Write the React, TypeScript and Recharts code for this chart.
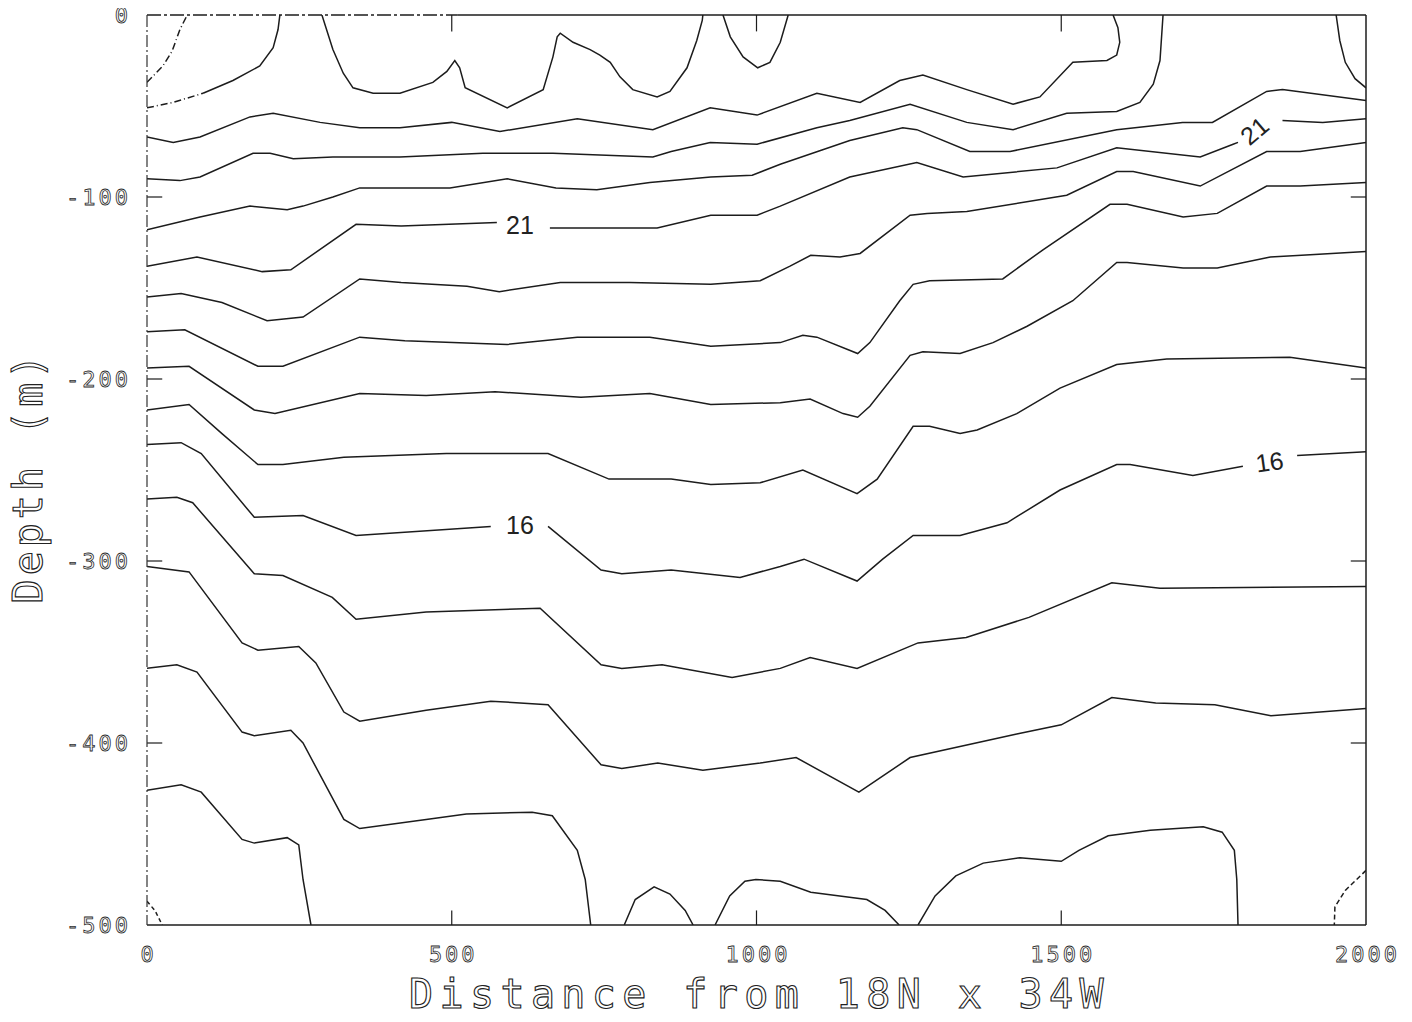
import React from "react";
import { LineChart, Line, XAxis, YAxis, ReferenceLine, ReferenceDot } from "recharts";

// distance (km) / depth (m) pairs
const X_TICKS = [0, 500, 1000, 1500, 2000];
const Y_TICKS = [-500, -400, -300, -200, -100, 0];

const ISO_A = [[0, -37], [26, -28], [41, -20], [54, -8], [66, 0]];
const ISO_B_DASH = [[0, -51], [43, -48], [92, -43]];
const ISO_B = [[92, -43], [141, -36], [185, -28], [207, -18], [215, -8], [218, 0]];
const ISO_C = [[287, 0], [305, -19], [322, -32], [338, -40], [371, -43], [415, -43], [469, -37], [492, -31], [505, -25], [513, -29], [522, -40], [591, -51], [650, -41], [666, -23], [673, -12], [678, -10], [699, -15], [727, -19], [743, -22], [760, -26], [776, -34], [797, -41], [837, -45], [858, -42], [886, -29], [902, -14], [911, -3], [912, 0]];
const ISO_D = [[945, 0], [957, -12], [978, -23], [1002, -29], [1022, -26], [1039, -15], [1052, 0]];
const ISO_E = [[0, -67], [43, -70], [87, -67], [169, -56], [207, -54], [284, -59], [349, -62], [415, -62], [500, -59], [579, -64], [706, -57], [830, -63], [924, -51], [1001, -55], [1099, -43], [1170, -48], [1235, -36], [1273, -33], [1345, -41], [1421, -49], [1465, -45], [1519, -26], [1575, -25], [1591, -22], [1596, -15], [1593, -7], [1585, 0]];
const ISO_F = [[0, -90], [54, -91], [87, -89], [174, -76], [202, -76], [240, -79], [305, -78], [415, -78], [551, -76], [666, -76], [830, -78], [860, -75], [924, -70], [1001, -71], [1099, -62], [1153, -58], [1252, -49], [1345, -59], [1421, -63], [1509, -54], [1591, -53], [1629, -48], [1651, -38], [1662, -25], [1667, 0]];
const ISO_G = [[0, -118], [87, -111], [169, -105], [230, -107], [256, -105], [305, -100], [349, -95], [415, -95], [497, -95], [591, -90], [671, -95], [738, -96], [825, -92], [925, -89], [993, -88], [1039, -82], [1153, -69], [1240, -62], [1263, -63], [1350, -75], [1416, -75], [1591, -63], [1699, -59], [1748, -59], [1837, -42], [1863, -41], [2000, -47]];
const ISO_21_A = [[0, -138], [82, -133], [189, -141], [236, -140], [343, -115], [417, -116], [574, -114]];
const ISO_21_B = [[661, -117], [837, -117], [925, -110], [1001, -110], [1039, -105], [1153, -89], [1263, -81], [1339, -89], [1493, -84], [1591, -73], [1728, -78], [1782, -71], [1790, -70]];
const ISO_21_C = [[1863, -58], [1929, -59], [2000, -57]];
const ISO_20 = [[0, -155], [56, -153], [123, -158], [197, -168], [256, -166], [349, -145], [417, -147], [525, -149], [578, -152], [678, -147], [792, -147], [925, -148], [1006, -146], [1055, -138], [1089, -132], [1137, -133], [1170, -131], [1252, -110], [1280, -109], [1345, -108], [1509, -99], [1591, -86], [1618, -86], [1728, -94], [1837, -75], [1892, -75], [2000, -70]];
const ISO_19 = [[0, -174], [62, -173], [182, -193], [223, -193], [349, -177], [423, -179], [591, -181], [706, -177], [825, -177], [925, -182], [1039, -180], [1076, -176], [1099, -177], [1166, -186], [1186, -180], [1235, -157], [1257, -148], [1284, -146], [1404, -145], [1470, -129], [1580, -104], [1608, -104], [1700, -111], [1756, -109], [1837, -94], [1892, -94], [2000, -92]];
const ISO_18 = [[0, -194], [69, -193], [176, -217], [210, -219], [349, -208], [458, -209], [571, -207], [712, -210], [825, -208], [925, -214], [1039, -213], [1088, -211], [1142, -219], [1166, -221], [1186, -215], [1252, -187], [1273, -185], [1334, -186], [1388, -180], [1444, -171], [1519, -157], [1591, -136], [1608, -136], [1700, -139], [1756, -139], [1843, -133], [2000, -130]];
const ISO_17 = [[0, -217], [69, -214], [123, -230], [182, -247], [223, -247], [323, -243], [491, -241], [658, -241], [758, -255], [860, -255], [925, -258], [1006, -257], [1076, -250], [1165, -263], [1198, -255], [1257, -226], [1284, -226], [1334, -230], [1362, -228], [1427, -219], [1498, -205], [1591, -192], [1673, -189], [1875, -188], [2000, -194]];
const ISO_16_A = [[0, -236], [56, -235], [89, -241], [176, -276], [256, -275], [343, -286], [564, -281]];
const ISO_16_B = [[658, -281], [745, -305], [779, -307], [860, -305], [973, -309], [1039, -303], [1078, -299], [1165, -311], [1207, -299], [1257, -286], [1334, -286], [1411, -279], [1498, -261], [1591, -247], [1613, -247], [1716, -253], [1798, -248]];
const ISO_16_C = [[1887, -242], [2000, -240]];
const ISO_15 = [[0, -266], [49, -265], [75, -268], [176, -307], [223, -308], [304, -320], [343, -332], [458, -328], [645, -326], [745, -357], [779, -359], [845, -357], [960, -364], [1039, -359], [1088, -353], [1165, -359], [1265, -345], [1344, -342], [1447, -331], [1583, -312], [1662, -315], [2000, -314]];
const ISO_14 = [[0, -303], [69, -306], [156, -345], [182, -349], [249, -347], [277, -356], [323, -383], [349, -388], [458, -382], [564, -377], [658, -379], [745, -412], [779, -414], [838, -411], [912, -415], [1006, -411], [1065, -408], [1168, -427], [1252, -408], [1427, -395], [1500, -390], [1583, -375], [1655, -378], [1752, -379], [1844, -385], [2000, -381]];
const ISO_13 = [[0, -359], [49, -357], [82, -361], [156, -394], [176, -396], [236, -393], [256, -400], [323, -442], [349, -447], [458, -442], [524, -439], [632, -438], [665, -440], [706, -459], [719, -475], [728, -500]];
const ISO_12 = [[0, -426], [56, -423], [89, -427], [156, -453], [176, -455], [230, -452], [249, -456], [256, -475], [269, -500]];
const ARC_LEFT = [[0, -487], [13, -492], [25, -500]];
const ARC_MID = [[783, -500], [801, -486], [832, -479], [858, -483], [883, -492], [896, -500]];
const BOTTOM_G = [[932, -500], [956, -484], [981, -476], [999, -475], [1039, -476], [1089, -482], [1181, -486], [1211, -492], [1234, -500]];
const BOTTOM_F = [[1265, -500], [1293, -484], [1327, -473], [1372, -466], [1432, -463], [1500, -465], [1529, -459], [1577, -451], [1646, -448], [1733, -446], [1764, -449], [1784, -459], [1788, -475], [1790, -500]];
const ARC_RIGHT = [[2000, -470], [1966, -481], [1949, -490], [1948, -500]];
const CORNER = [[1951, 0], [1957, -14], [1966, -26], [1982, -35], [2000, -40]];

const CONTOUR_LABELS = [
  { x: 612, y: -116, text: "21", angle: 0 },
  { x: 1818, y: -64, text: "21", angle: -40 },
  { x: 612, y: -281, text: "16", angle: 0 },
  { x: 1842, y: -246, text: "16", angle: -8 },
];

const DASH_DOT = "7 3 1 3";
const CONTOURS: { id: string; pts: number[][]; dash?: string }[] = [
  { id: "a", pts: ISO_A, dash: DASH_DOT },
  { id: "b0", pts: ISO_B_DASH, dash: DASH_DOT },
  { id: "b", pts: ISO_B },
  { id: "c", pts: ISO_C },
  { id: "d", pts: ISO_D },
  { id: "e", pts: ISO_E },
  { id: "f", pts: ISO_F },
  { id: "g", pts: ISO_G },
  { id: "21a", pts: ISO_21_A },
  { id: "21b", pts: ISO_21_B },
  { id: "21c", pts: ISO_21_C },
  { id: "20", pts: ISO_20 },
  { id: "19", pts: ISO_19 },
  { id: "18", pts: ISO_18 },
  { id: "17", pts: ISO_17 },
  { id: "16a", pts: ISO_16_A },
  { id: "16b", pts: ISO_16_B },
  { id: "16c", pts: ISO_16_C },
  { id: "15", pts: ISO_15 },
  { id: "14", pts: ISO_14 },
  { id: "13", pts: ISO_13 },
  { id: "12", pts: ISO_12 },
  { id: "arcL", pts: ARC_LEFT, dash: "4 3" },
  { id: "arcM", pts: ARC_MID },
  { id: "botG", pts: BOTTOM_G },
  { id: "botF", pts: BOTTOM_F },
  { id: "arcR", pts: ARC_RIGHT, dash: "5 3" },
  { id: "corner", pts: CORNER },
];

const INK = "#1c1c1c";
// chart covers the whole page (body margin cancelled below)
const W = 1412;
const H = 1022;
const PLOT_LEFT = 147;
const PLOT_TOP = 15;
const PLOT_W = 1219;
const PLOT_H = 910;

const tickFont: React.CSSProperties = {
  fontFamily: "'DejaVu Sans Mono', monospace",
  fontSize: 22,
  letterSpacing: 3,
  fill: "none",
  stroke: "#2a2a2a",
  strokeWidth: 0.8,
};

const titleFont: React.CSSProperties = {
  fontFamily: "'DejaVu Sans Mono', monospace",
  fontSize: 40,
  fill: "none",
  stroke: "#222",
  strokeWidth: 1.1,
};

const XTick = ({ x, y, payload }: any) => (
  <text x={x + 1.5} y={y + 37} textAnchor="middle" style={tickFont}>
    {payload.value}
  </text>
);

const YTick = ({ x, y, payload }: any) => (
  <text x={x - 16} y={y + 8} textAnchor="end" style={tickFont}>
    {payload.value}
  </text>
);

const XTitle = () => (
  <text
    x={PLOT_LEFT + PLOT_W / 2 + 3}
    y={PLOT_TOP + PLOT_H + 83}
    textAnchor="middle"
    style={{ ...titleFont, letterSpacing: 6.4 }}
  >
    Distance from 18N x 34W
  </text>
);

const YTitle = () => {
  const cx = 42;
  const cy = 477;
  return (
    <text
      x={cx}
      y={cy}
      textAnchor="middle"
      transform={`rotate(-90, ${cx}, ${cy})`}
      style={{ ...titleFont, letterSpacing: 4 }}
    >
      Depth (m)
    </text>
  );
};

const toPts = (arr: number[][]) => arr.map(([x, y]) => ({ x, y }));

export default function App() {
  return (
    <div style={{ width: W, height: H, margin: "-8px 0 0 -8px", background: "#fff" }}>
      <LineChart width={W} height={H} margin={{ top: PLOT_TOP, right: W - PLOT_LEFT - PLOT_W, left: 0, bottom: 0 }}>
        <XAxis
          type="number"
          dataKey="x"
          domain={[0, 2000]}
          ticks={X_TICKS}
          allowDataOverflow
          height={H - PLOT_TOP - PLOT_H}
          tickSize={0}
          tickMargin={0}
          tickLine={false}
          axisLine={{ stroke: INK, strokeWidth: 1.5 }}
          tick={<XTick />}
          label={XTitle}
        />
        <YAxis
          type="number"
          domain={[-500, 0]}
          ticks={Y_TICKS}
          allowDataOverflow
          width={PLOT_LEFT}
          tickSize={0}
          tickMargin={0}
          tickLine={false}
          axisLine={{ stroke: "#333", strokeWidth: 1.2, strokeDasharray: "12 3 2 3" }}
          tick={<YTick />}
          label={YTitle}
        />
        <ReferenceLine segment={[{ x: 0, y: 0 }, { x: 510, y: 0 }]} stroke={INK} strokeWidth={1.4} strokeDasharray="14 3 3 3" />
        <ReferenceLine segment={[{ x: 510, y: 0 }, { x: 2000, y: 0 }]} stroke={INK} strokeWidth={1.5} />
        <ReferenceLine x={2000} stroke={INK} strokeWidth={1.5} />
        {X_TICKS.slice(1, -1).map((t) => (
          <ReferenceLine key={`bt${t}`} segment={[{ x: t, y: -500 }, { x: t, y: -492 }]} stroke={INK} strokeWidth={1.2} />
        ))}
        {X_TICKS.slice(1, -1).map((t) => (
          <ReferenceLine key={`tt${t}`} segment={[{ x: t, y: 0 }, { x: t, y: -9 }]} stroke={INK} strokeWidth={1.2} />
        ))}
        {Y_TICKS.slice(1, -1).map((t) => (
          <ReferenceLine key={`lt${t}`} segment={[{ x: 0, y: t }, { x: 25, y: t }]} stroke={INK} strokeWidth={1.2} />
        ))}
        {Y_TICKS.slice(1, -1).map((t) => (
          <ReferenceLine key={`rt${t}`} segment={[{ x: 1975, y: t }, { x: 2000, y: t }]} stroke={INK} strokeWidth={1.2} />
        ))}
        {CONTOURS.map((c) => (
          <Line
            key={c.id}
            name={c.id}
            data={toPts(c.pts)}
            dataKey="y"
            type="linear"
            stroke={INK}
            strokeWidth={1.5}
            strokeDasharray={c.dash}
            dot={false}
            activeDot={false}
            isAnimationActive={false}
          />
        ))}
        {CONTOUR_LABELS.map((l, i) => (
          <ReferenceDot
            key={`lbl${i}`}
            x={l.x}
            y={l.y}
            r={0}
            shape={(p: any) => (
              <text
                x={p.cx}
                y={p.cy}
                dy={8}
                textAnchor="middle"
                transform={`rotate(${l.angle}, ${p.cx}, ${p.cy})`}
                style={{ fontFamily: "'Liberation Sans', sans-serif", fontSize: 25, fill: "#222" }}
              >
                {l.text}
              </text>
            )}
          />
        ))}
      </LineChart>
    </div>
  );
}
